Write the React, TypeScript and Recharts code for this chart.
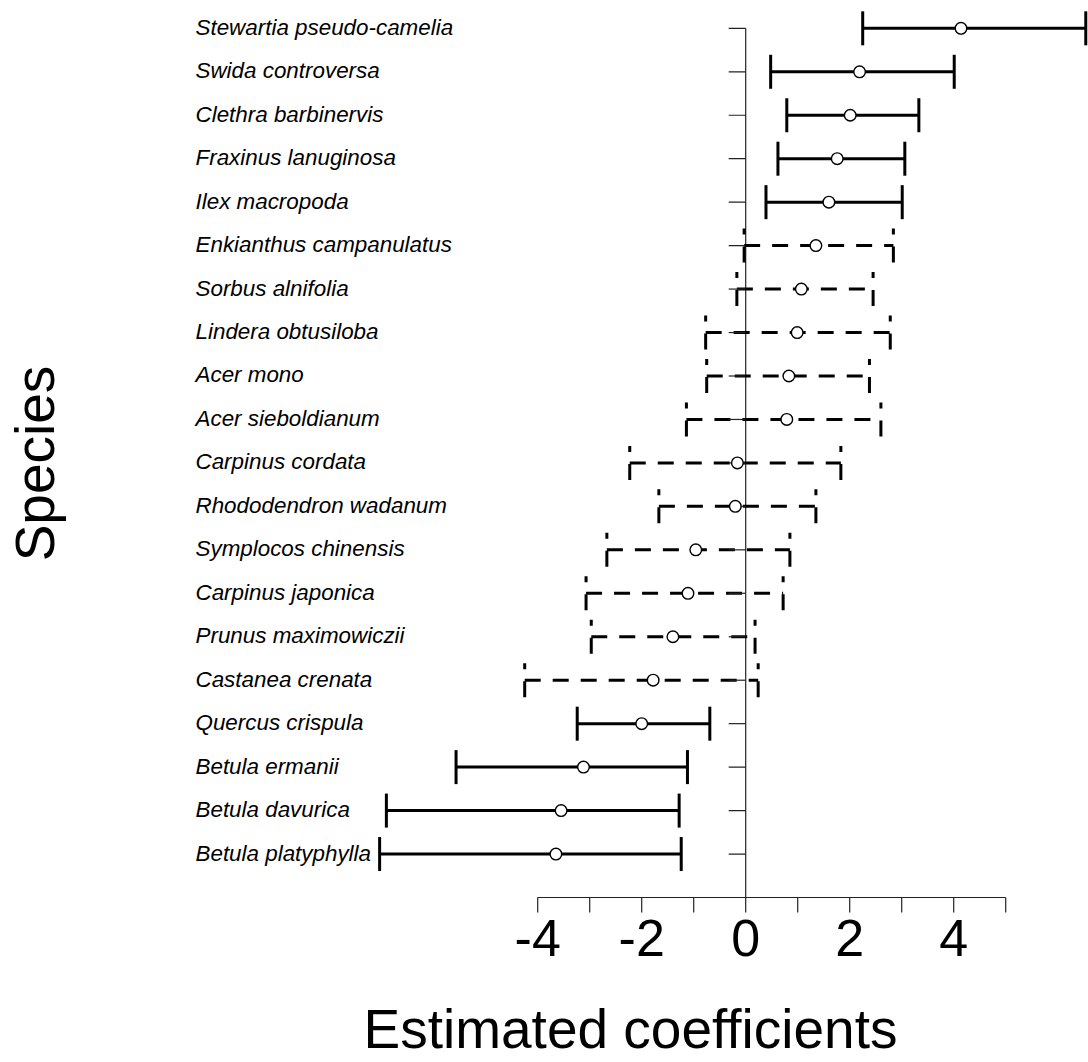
import React from 'react';
import { ScatterChart, Scatter, XAxis, YAxis, ErrorBar, ReferenceLine } from 'recharts';

const FONT = '"Liberation Sans", Arial, Helvetica, sans-serif';

// Species, top to bottom
const species = [
  'Stewartia pseudo-camelia',
  'Swida controversa',
  'Clethra barbinervis',
  'Fraxinus lanuginosa',
  'Ilex macropoda',
  'Enkianthus campanulatus',
  'Sorbus alnifolia',
  'Lindera obtusiloba',
  'Acer mono',
  'Acer sieboldianum',
  'Carpinus cordata',
  'Rhododendron wadanum',
  'Symplocos chinensis',
  'Carpinus japonica',
  'Prunus maximowiczii',
  'Castanea crenata',
  'Quercus crispula',
  'Betula ermanii',
  'Betula davurica',
  'Betula platyphylla',
];
const estimates = [4.14, 2.19, 2.01, 1.76, 1.6, 1.35, 1.07, 0.99, 0.83, 0.79, -0.16, -0.2, -0.96, -1.11, -1.4, -1.78, -2.0, -3.12, -3.55, -3.65];
const lower = [2.25, 0.48, 0.79, 0.62, 0.39, -0.03, -0.17, -0.77, -0.75, -1.14, -2.23, -1.67, -2.67, -3.07, -2.97, -4.25, -3.24, -5.57, -6.91, -7.04];
const upper = [6.54, 4.01, 3.33, 3.06, 3.01, 2.84, 2.45, 2.78, 2.38, 2.6, 1.83, 1.35, 0.85, 0.72, 0.18, 0.24, -0.69, -1.12, -1.28, -1.24];
const lineType = [
  'solid', 'solid', 'solid', 'solid', 'solid',
  'dashed', 'dashed', 'dashed', 'dashed', 'dashed', 'dashed',
  'dashed', 'dashed', 'dashed', 'dashed', 'dashed',
  'solid', 'solid', 'solid', 'solid',
];
const xTicks = [-4, -3, -2, -1, 0, 1, 2, 3, 4, 5];

const rows = species.map((name, i) => ({
  name,
  pos: species.length - i,
  est: estimates[i],
  err: [estimates[i] - lower[i], upper[i] - estimates[i]],
  dashed: lineType[i] === 'dashed',
}));
const solidRows = rows.filter((r) => !r.dashed);
const dashedRows = rows.filter((r) => r.dashed);
// tick marks of the vertical axis drawn at x = 0
const axisTickRows = rows.map((r) => ({ pos: r.pos, est: 0 }));
const posTicks = rows.map((r) => r.pos);
const nameByPos: Record<number, string> = {};
rows.forEach((r) => {
  nameByPos[r.pos] = r.name;
});

const SpeciesTick = (props: any) => (
  <text
    x={195.5}
    y={props.y + 6.5}
    textAnchor="start"
    fontFamily={FONT}
    fontStyle="italic"
    fontSize={22.4}
    fill="#000"
  >
    {nameByPos[props.payload.value]}
  </text>
);

const XTitle = () => (
  <text x={630.5} y={1048} textAnchor="middle" fontFamily={FONT} fontSize={55} fill="#000">
    Estimated coefficients
  </text>
);

const YTitle = () => (
  <text
    x={53.5}
    y={463.5}
    transform="rotate(-90, 53.5, 463.5)"
    textAnchor="middle"
    fontFamily={FONT}
    fontSize={55}
    fill="#000"
  >
    Species
  </text>
);

const Dot = (props: any) => (
  <circle cx={props.cx} cy={props.cy} r={5.8} fill="#fff" stroke="#000" strokeWidth={1.4} />
);

const ZeroTick = (props: any) => (
  <line x1={props.cx - 17} y1={props.cy} x2={props.cx} y2={props.cy} stroke="#222" strokeWidth={1.2} />
);

export default function App() {
  return (
    <div style={{ position: 'absolute', left: 0, top: 0, background: '#fff' }}>
      <ScatterChart
        width={1088}
        height={1062}
        margin={{ top: 6.6, right: 0.4, bottom: 64.5, left: 0 }}
      >
        <XAxis
          type="number"
          dataKey="est"
          domain={[-7.5, 6.575]}
          allowDataOverflow
          ticks={xTicks}
          interval={0}
          axisLine={false}
          tickLine={{ stroke: '#222', strokeWidth: 1.2 }}
          tickSize={15}
          tickMargin={6.5}
          height={100}
          tick={{ fontSize: 52, fill: '#000', fontFamily: FONT }}
          tickFormatter={(v: number) => (v % 2 === 0 ? String(v) : '')}
          label={<XTitle />}
        />
        <YAxis
          type="number"
          dataKey="pos"
          domain={[0, 20.5]}
          allowDataOverflow
          ticks={posTicks}
          interval={0}
          width={355.7}
          axisLine={false}
          tickLine={false}
          tick={<SpeciesTick />}
          label={<YTitle />}
        />
        <ReferenceLine
          segment={[{ x: -4, y: 0 }, { x: 5, y: 0 }]}
          stroke="#222"
          strokeWidth={1.2}
          ifOverflow="visible"
        />
        <ReferenceLine
          segment={[{ x: 0, y: 0 }, { x: 0, y: 20 }]}
          stroke="#222"
          strokeWidth={1.2}
          ifOverflow="visible"
        />
        <Scatter data={axisTickRows} shape={<ZeroTick />} isAnimationActive={false} />
        <Scatter data={solidRows} shape={<Dot />} isAnimationActive={false}>
          <ErrorBar dataKey="err" direction="x" width={17} stroke="#000" strokeWidth={3} isAnimationActive={false} />
        </Scatter>
        <Scatter data={dashedRows} shape={<Dot />} isAnimationActive={false}>
          <ErrorBar
            dataKey="err"
            direction="x"
            width={17}
            stroke="#000"
            strokeWidth={3}
            strokeDasharray="16 12"
            isAnimationActive={false}
          />
        </Scatter>
      </ScatterChart>
    </div>
  );
}
